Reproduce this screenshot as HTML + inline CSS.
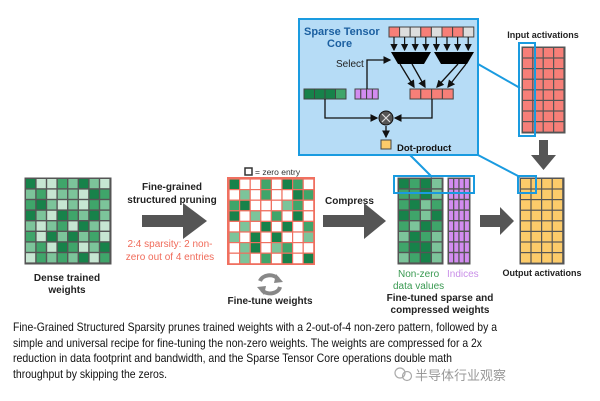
<!DOCTYPE html>
<html><head><meta charset="utf-8"><style>
body{margin:0;background:#fff}
svg{display:block;font-family:"Liberation Sans",Arial,sans-serif}
.b{font-weight:bold}
</style></head><body>
<svg id="s" width="600" height="401" viewBox="0 0 600 401" xmlns="http://www.w3.org/2000/svg">
<defs>
<marker id="ah" markerWidth="6" markerHeight="6" refX="5" refY="3" orient="auto"><path d="M0,0 L6,3 L0,6 z" fill="#111"/></marker>
</defs>
<rect width="600" height="401" fill="#fff"/>
<line x1="478" y1="64" x2="520" y2="88" stroke="#1a9be0" stroke-width="2"/>
<line x1="410" y1="155" x2="432" y2="177" stroke="#1a9be0" stroke-width="2"/>
<line x1="478" y1="155" x2="520" y2="177" stroke="#1a9be0" stroke-width="2"/>
<rect x="299" y="19" width="179" height="136" fill="#b6dcf6" stroke="#1a9be0" stroke-width="2"/>
<text x="304" y="35" font-size="11" class="b" fill="#1b5fa0">Sparse Tensor</text>
<text x="327" y="47" font-size="11" class="b" fill="#1b5fa0">Core</text>
<g id="top"></g>
<text x="336" y="67" font-size="10" fill="#222">Select</text>
<text x="397" y="151" font-size="9.5" class="b" fill="#111">Dot-product</text>
<text x="543" y="38" font-size="9" class="b" fill="#222" text-anchor="middle">Input activations</text>
<g id="g"></g>
<polygon points="539,140 548,140 548,155 556,155 543.5,170 531,155 539,155" fill="#555"/>
<text x="67" y="281" font-size="10" class="b" text-anchor="middle" fill="#222">Dense trained</text>
<text x="67" y="293" font-size="10" class="b" text-anchor="middle" fill="#222">weights</text>
<text x="172" y="190" font-size="10" class="b" text-anchor="middle" fill="#222">Fine-grained</text>
<text x="172" y="203" font-size="10" class="b" text-anchor="middle" fill="#222">structured pruning</text>
<polygon points="142,215 183,215 183,203 207,221 183,239 183,227 142,227" fill="#555"/>
<text x="170" y="247" font-size="10" text-anchor="middle" fill="#f06b5a">2:4 sparsity: 2 non-</text>
<text x="170" y="260" font-size="10" text-anchor="middle" fill="#f06b5a">zero out of 4 entries</text>
<rect x="245" y="168" width="7" height="7" fill="#fff" stroke="#333" stroke-width="1.5"/>
<text x="255" y="175" font-size="8.5" fill="#333">= zero entry</text>
<path d="M260,281 A10,8 0 0 1 278,279" fill="none" stroke="#888" stroke-width="4"/>
<path d="M280,287 A10,8 0 0 1 262,290" fill="none" stroke="#888" stroke-width="4"/>
<polygon points="276,274 283,282 274,283" fill="#888"/>
<polygon points="264,295 257,287 266,286" fill="#888"/>
<text x="270" y="304" font-size="10" class="b" text-anchor="middle" fill="#222">Fine-tune weights</text>
<text x="325" y="204" font-size="10" class="b" fill="#222">Compress</text>
<polygon points="323,215 364,215 364,203 386,221 364,239 364,227 323,227" fill="#555"/>
<polygon points="480,215 500,215 500,207 514,221 500,235 500,227 480,227" fill="#555"/>
<text x="398" y="277" font-size="10" fill="#3a9a52">Non-zero</text>
<text x="393" y="289" font-size="10" fill="#3a9a52">data values</text>
<text x="447" y="277" font-size="10" fill="#c98fe8">Indices</text>
<text x="440" y="301" font-size="10" class="b" text-anchor="middle" fill="#222">Fine-tuned sparse and</text>
<text x="440" y="313" font-size="10" class="b" text-anchor="middle" fill="#222">compressed weights</text>
<text x="542" y="276" font-size="9" class="b" text-anchor="middle" fill="#222">Output activations</text>
<g font-size="12" fill="#111">
<text x="13" y="331" textLength="484" lengthAdjust="spacingAndGlyphs">Fine-Grained Structured Sparsity prunes trained weights with a 2-out-of-4 non-zero pattern, followed by a</text>
<text x="13" y="347" textLength="469" lengthAdjust="spacingAndGlyphs">simple and universal recipe for fine-tuning the non-zero weights. The weights are compressed for a 2x</text>
<text x="13" y="362" textLength="439" lengthAdjust="spacingAndGlyphs">reduction in data footprint and bandwidth, and the Sparse Tensor Core operations double math</text>
<text x="13" y="378" textLength="154" lengthAdjust="spacingAndGlyphs">throughput by skipping the zeros.</text>
</g>
<circle cx="400" cy="373" r="5" fill="none" stroke="#aaa" stroke-width="1.2"/>
<circle cx="407" cy="376" r="4.5" fill="none" stroke="#aaa" stroke-width="1.2"/>
<text x="415" y="380" font-size="13" fill="#999" style="font-family:'Liberation Sans','Noto Sans CJK SC',sans-serif">半导体行业观察</text>
</svg>
<script>
const NS="http://www.w3.org/2000/svg",g=document.getElementById('g'),tp=document.getElementById('top');
function r(p,x,y,w,h,f,s,sw){const e=document.createElementNS(NS,'rect');e.setAttribute('x',x);e.setAttribute('y',y);e.setAttribute('width',w);e.setAttribute('height',h);e.setAttribute('fill',f);e.setAttribute('stroke',s||'#444');e.setAttribute('stroke-width',sw||1);p.appendChild(e);return e}
function l(p,d,s,w,m){const e=document.createElementNS(NS,'path');e.setAttribute('d',d);e.setAttribute('fill','none');e.setAttribute('stroke',s||'#111');e.setAttribute('stroke-width',w||1.3);if(m)e.setAttribute('marker-end','url(#ah)');p.appendChild(e)}
const G=['#17824a','#3fa56a','#7cc49a','#c6e6d2'];
const dense=[[0,3,3,1,2,0,2,3],[2,1,3,2,2,3,0,1],[1,0,2,3,2,3,1,2],[0,2,3,0,1,2,0,2],[2,3,2,1,3,0,2,3],[1,3,0,2,0,2,1,3],[2,1,3,0,1,3,2,0],[3,1,2,1,2,0,3,1]];
r(g,25,178,86,86,'#555','#555');
for(let i=0;i<8;i++)for(let j=0;j<8;j++)r(g,26+j*10.6,179+i*10.6,9.2,9.2,G[dense[i][j]],'none');
r(g,228,178,86,86,'#fff','#f07060',2);
const pr=[[0,-1,-1,1,-1,0,1,-1],[-1,2,-1,1,-1,-1,0,1],[1,0,-1,-1,-1,2,1,-1],[0,-1,2,-1,1,-1,0,-1],[-1,2,-1,0,-1,0,-1,1],[2,-1,0,-1,0,-1,-1,2],[-1,2,0,-1,2,1,-1,-1],[-1,2,-1,1,-1,0,-1,0]];
for(let i=0;i<8;i++)for(let j=0;j<8;j++)r(g,229+j*10.6,179+i*10.6,10.6,10.6,pr[i][j]<0?'#fff':G[pr[i][j]],'#f07060',1.2);
const cv=[[0,1,0,2],[1,1,0,2],[1,0,2,1],[0,1,2,0],[1,2,0,1],[2,0,1,2],[1,0,0,2],[2,1,0,2]];
r(g,398,178,45,86,'#555','#555');
for(let i=0;i<8;i++)for(let j=0;j<4;j++)r(g,399+j*11,179+i*10.6,9.6,9.2,G[cv[i][j]],'none');
r(g,448,178,22,86,'#555','#555');
for(let i=0;i<8;i++)for(let j=0;j<4;j++)r(g,449+j*5.3,179+i*10.6,4,9.2,'#d28cf0','none');
r(g,520,178,44,86,'#555','#555');
for(let i=0;i<8;i++)for(let j=0;j<4;j++)r(g,521+j*10.6,179+i*10.6,9.4,9.4,'#fccb6a','none');
r(g,522,47,43,86,'#555','#555');
for(let i=0;i<8;i++)for(let j=0;j<4;j++)r(g,523+j*10.4,48+i*10.6,9.2,9.4,'#f77f78','none');
r(g,394,176,80,17,'none','#1a9be0',2);
r(g,518,176,18,17,'none','#1a9be0',2);
r(g,519,43,16,93,'none','#1a9be0',2);
const tc=['#f77f78','#ddd','#ddd','#f77f78','#ddd','#f77f78','#f77f78','#ddd'];
for(let k=0;k<8;k++){r(tp,389+k*10.6,27,10.6,10,tc[k],'#444');l(tp,`M${394+k*10.6},37 V50`,'#111',1.2,1)}
const m1=document.createElementNS(NS,'polygon');m1.setAttribute('points','391,52 431,52 424,64 398,64');tp.appendChild(m1);
const m2=document.createElementNS(NS,'polygon');m2.setAttribute('points','434,52 474,52 467,64 441,64');tp.appendChild(m2);
const gc=['#17824a','#17824a','#17824a','#3fa56a'];
for(let k=0;k<4;k++)r(tp,304+k*10.5,89,10.5,10,gc[k],'#444');
for(let k=0;k<4;k++)r(tp,355+k*5.8,89,5.8,10,'#d28cf0','#444');
for(let k=0;k<4;k++)r(tp,410+k*10.8,89,10.8,10,'#f77f78','#444');
l(tp,'M367,89 V60 H390','#111',1.3,1);
l(tp,'M400,64 L414,87','#111',1.3,1);l(tp,'M412,64 L425,87','#111',1.3,1);
l(tp,'M458,64 L437,87','#111',1.3,1);l(tp,'M466,64 L448,87','#111',1.3,1);
l(tp,'M325,99 V118 H377','#111',1.3,1);l(tp,'M432,99 V118 H395','#111',1.3,1);
l(tp,'M386,126 V137','#111',1.3,1);
const c=document.createElementNS(NS,'circle');c.setAttribute('cx',386);c.setAttribute('cy',118);c.setAttribute('r',7);c.setAttribute('fill','#555');c.setAttribute('stroke','#111');tp.appendChild(c);
l(tp,'M382,114 L390,122 M390,114 L382,122','#ddd',1.2);
r(tp,381,140,10,9,'#fccb6a','#444');
</script>
</body></html>
